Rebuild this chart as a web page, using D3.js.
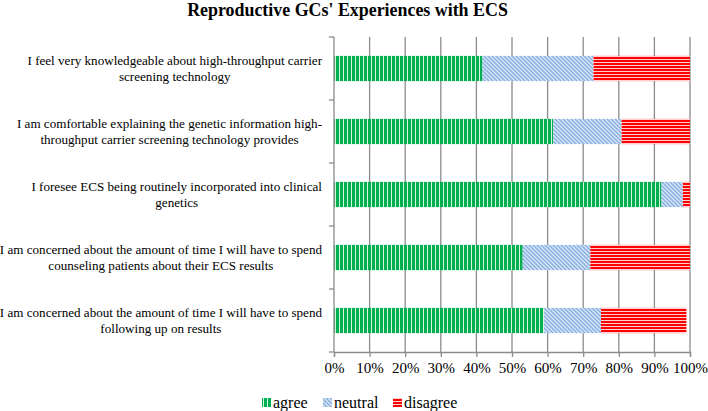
<!DOCTYPE html>
<html><head><meta charset="utf-8">
<script src="https://cdn.jsdelivr.net/npm/d3@7"></script>
<style>body{margin:0;background:#fff}svg{display:block}</style>
</head><body>
<svg id="c" width="708" height="411"></svg>
<script>
const title = "Reproductive GCs' Experiences with ECS";
const categories = [
  ["I feel very knowledgeable about high-throughput carrier","screening technology"],
  ["I am comfortable explaining the genetic information high-","throughput carrier screening technology provides"],
  ["I foresee ECS being routinely incorporated into clinical","genetics"],
  ["I am concerned about the amount of time I will have to spend","counseling patients about their ECS results"],
  ["I am concerned about the amount of time I will have to spend","following up on results"]
];
const seriesNames = ["agree","neutral","disagree"];
const agree    = [41.7, 61.6, 92, 53, 59];
const neutral  = [31.2, 19.2, 6, 19, 16];
const disagree = [27.1, 19.2, 2, 28, 24];
const xTicks = [0,10,20,30,40,50,60,70,80,90,100];

const FONT = "'Liberation Serif', 'Times New Roman', Times, serif";
const svg = d3.select("#c").style("font-family", FONT);
const defs = svg.append("defs");
const pA = defs.append("pattern").attr("id","pA").attr("patternUnits","userSpaceOnUse").attr("width",4).attr("height",4);
pA.append("rect").attr("width",4).attr("height",4).attr("fill","#d6f5df");
pA.append("rect").attr("width",3).attr("height",4).attr("fill","#00b050");
const pN = defs.append("pattern").attr("id","pN").attr("patternUnits","userSpaceOnUse").attr("width",4).attr("height",4);
pN.append("rect").attr("width",4).attr("height",4).attr("fill","#e4eefa");
pN.append("path").attr("d","M-1,-1L5,5M-1,3L1,5M3,-1L5,1").attr("stroke","#8db3e2").attr("stroke-width",1.6);
const pD = defs.append("pattern").attr("id","pD").attr("patternUnits","userSpaceOnUse").attr("width",4).attr("height",3);
pD.append("rect").attr("width",4).attr("height",3).attr("fill","#ffd0d0");
pD.append("rect").attr("width",4).attr("height",2).attr("fill","#ff0000");
const fills = ["url(#pA)","url(#pN)","url(#pD)"];

const x = d3.scaleLinear().domain([0,100]).range([334,690]);
const y = d3.scaleBand().domain(d3.range(categories.length)).range([37,352]).paddingInner(0.6).paddingOuter(0.3);

svg.append("text").attr("x",347.5).attr("y",15.5).attr("text-anchor","middle").style("font-family",FONT)
  .attr("font-weight","bold").attr("font-size",17.9).text(title);

svg.append("g").selectAll("line").data(xTicks.slice(1)).join("line")
  .attr("x1",d=>x(d)).attr("x2",d=>x(d)).attr("y1",37).attr("y2",352)
  .attr("stroke","#8c8c8c").attr("stroke-width",1.3);

const rows = categories.map((c,i)=>({i, vals:[agree[i],neutral[i],disagree[i]]}));
const g = svg.append("g");
rows.forEach(r=>{
  let acc=0;
  r.vals.forEach((v,k)=>{
    g.append("rect").attr("x",x(acc)).attr("y",y(r.i)).attr("width",x(acc+v)-x(acc)).attr("height",y.bandwidth()).attr("fill",fills[k]);
    acc+=v;
  });
});

const xa = svg.append("g").attr("transform","translate(0,352)")
  .call(d3.axisBottom(x).tickValues(xTicks).tickFormat(d=>d+"%").tickSize(5).tickPadding(5));
xa.attr("font-family",null).attr("font-size",null);
xa.select(".domain").attr("stroke","#8c8c8c").attr("stroke-width",1.3);
xa.selectAll(".tick line").attr("stroke","#8c8c8c").attr("stroke-width",1.3);
xa.selectAll("text").attr("font-size",15).style("font-family",FONT).attr("fill","#000");

svg.append("line").attr("x1",334).attr("x2",334).attr("y1",37).attr("y2",352).attr("stroke","#8c8c8c").attr("stroke-width",1.3);
const bounds = d3.range(categories.length+1).map(i=>37+i*y.step());
svg.append("g").selectAll("line").data(bounds).join("line")
  .attr("x1",329).attr("x2",334).attr("y1",d=>d).attr("y2",d=>d).attr("stroke","#8c8c8c").attr("stroke-width",1.3);

const lab = svg.append("g");
categories.forEach((lines,i)=>{
  const cy = y(i)+y.bandwidth()/2;
  const t = lab.append("text").attr("text-anchor","middle").attr("font-size",13.1).style("font-family",FONT);
  const spans = lines.map((l,j)=> t.append("tspan").attr("y",cy + (j - (lines.length-1)/2)*15.5 + 4.5).text(l));
  const maxW = d3.max(spans, s=>s.node().getComputedTextLength());
  spans.forEach(s=>s.attr("x", 322 - maxW/2));
});

const legX = [262, 323, 393];
const leg = svg.append("g");
seriesNames.forEach((s,k)=>{
  leg.append("rect").attr("x",legX[k]).attr("y",398).attr("width",9).attr("height",9).attr("fill",fills[k]);
  leg.append("text").attr("x",legX[k]+11).attr("y",408).attr("font-size",16).style("font-family",FONT).text(s);
});
</script>
</body></html>
